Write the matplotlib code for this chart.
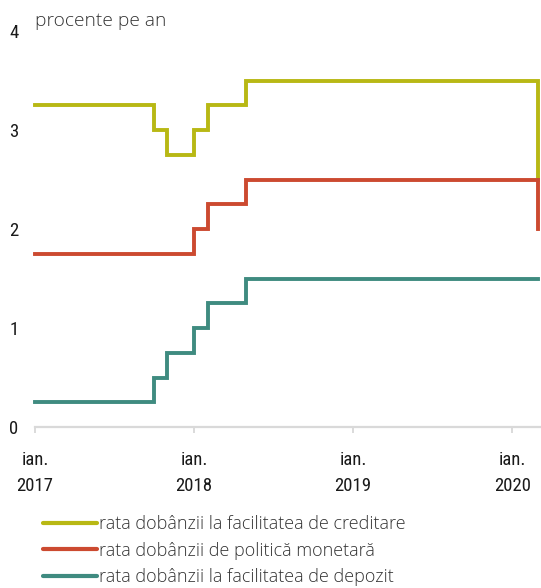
import matplotlib
matplotlib.use("Agg")
import matplotlib.pyplot as plt
import pandas as pd
from matplotlib import font_manager as fm
from matplotlib.lines import Line2D

names = {f.name for f in fm.fontManager.ttflist}
def pick(*cands):
    for c in cands:
        if c in names:
            return c
    return "DejaVu Sans"

cond_font = pick("Liberation Sans Narrow", "DejaVu Sans Condensed", "Roboto Condensed", "Open Sans Condensed", "Liberation Sans")
text_font = pick("Open Sans", "Lato", "Noto Sans")

# ---- data ----
months = pd.date_range("2017-01-01", "2020-03-01", freq="MS")
lending_rate = [3.25, 3.25, 3.25, 3.25, 3.25, 3.25, 3.25, 3.25, 3.25, 3.00, 2.75, 2.75,
                3.00, 3.25, 3.25, 3.25, 3.50, 3.50, 3.50, 3.50, 3.50, 3.50, 3.50, 3.50,
                3.50, 3.50, 3.50, 3.50, 3.50, 3.50, 3.50, 3.50, 3.50, 3.50, 3.50, 3.50,
                3.50, 3.50, 2.50]
policy_rate = [1.75, 1.75, 1.75, 1.75, 1.75, 1.75, 1.75, 1.75, 1.75, 1.75, 1.75, 1.75,
               2.00, 2.25, 2.25, 2.25, 2.50, 2.50, 2.50, 2.50, 2.50, 2.50, 2.50, 2.50,
               2.50, 2.50, 2.50, 2.50, 2.50, 2.50, 2.50, 2.50, 2.50, 2.50, 2.50, 2.50,
               2.50, 2.50, 2.00]
deposit_rate = [0.25, 0.25, 0.25, 0.25, 0.25, 0.25, 0.25, 0.25, 0.25, 0.50, 0.75, 0.75,
                1.00, 1.25, 1.25, 1.25, 1.50, 1.50, 1.50, 1.50, 1.50, 1.50, 1.50, 1.50,
                1.50, 1.50, 1.50, 1.50, 1.50, 1.50, 1.50, 1.50, 1.50, 1.50, 1.50, 1.50,
                1.50, 1.50, 1.50]
series_labels = ["rata dobânzii la facilitatea de creditare",
                 "rata dobânzii de politică monetară",
                 "rata dobânzii la facilitatea de depozit"]
colors = ["#b8b814", "#cc4a30", "#3f8b80"]
y_ticks = [0, 1, 2, 3, 4]
x_tick_dates = ["2017-01-01", "2018-01-01", "2019-01-01", "2020-01-01"]
x_tick_labels = ["ian.\n2017", "ian.\n2018", "ian.\n2019", "ian.\n2020"]
unit_label = "procente pe an"

W, H = 541, 588
fig = plt.figure(figsize=(W / 100, H / 100), dpi=100)
ax = fig.add_axes([35 / W, (H - 427) / H, (W - 35) / W, (427 - 31) / H])

for vals, c, lab in zip([lending_rate, policy_rate, deposit_rate], colors, series_labels):
    ax.plot(months, vals, drawstyle="steps-post", color=c, lw=2.8, label=lab,
            solid_joinstyle="miter", clip_on=False)

ax.set_ylim(0, 4)
ax.set_xlim(pd.Timestamp("2017-01-01"), pd.Timestamp("2020-03-07"))
ax.set_yticks(y_ticks)
ax.set_yticklabels([str(v) for v in y_ticks], fontfamily=cond_font, fontsize=13.5, color="#1a1a1a")
ax.set_xticks(pd.to_datetime(x_tick_dates))
ax.set_xticklabels(x_tick_labels, fontfamily=cond_font, fontsize=13.5, color="#1a1a1a",
                   linespacing=1.6)
ax.tick_params(axis="y", length=0, pad=12)
ax.tick_params(axis="x", length=4, width=1.2, color="#d4d4d4", pad=13)
for s in ["top", "right", "left"]:
    ax.spines[s].set_visible(False)
ax.spines["bottom"].set_color("#d9d9d9")
ax.spines["bottom"].set_linewidth(1.6)
ax.patch.set_alpha(0)

fig.text(35 / W, 1 - 21 / H, unit_label, fontfamily=text_font, fontsize=13.8,
         color="#333333", va="center", ha="left", fontweight="light")

handles = [Line2D([], [], color=c, lw=3, solid_capstyle="round") for c in colors]
leg = fig.legend(handles, series_labels, loc="upper left",
                 bbox_to_anchor=(43 / W, 1 - 515 / H), frameon=False,
                 handlelength=3.0, handletextpad=0.12, labelspacing=0.48,
                 prop={"family": text_font, "size": 13.0, "weight": "light"},
                 borderpad=0, borderaxespad=0)
for t in leg.get_texts():
    t.set_color("#333333")

fig.savefig("out.png", dpi=100)
